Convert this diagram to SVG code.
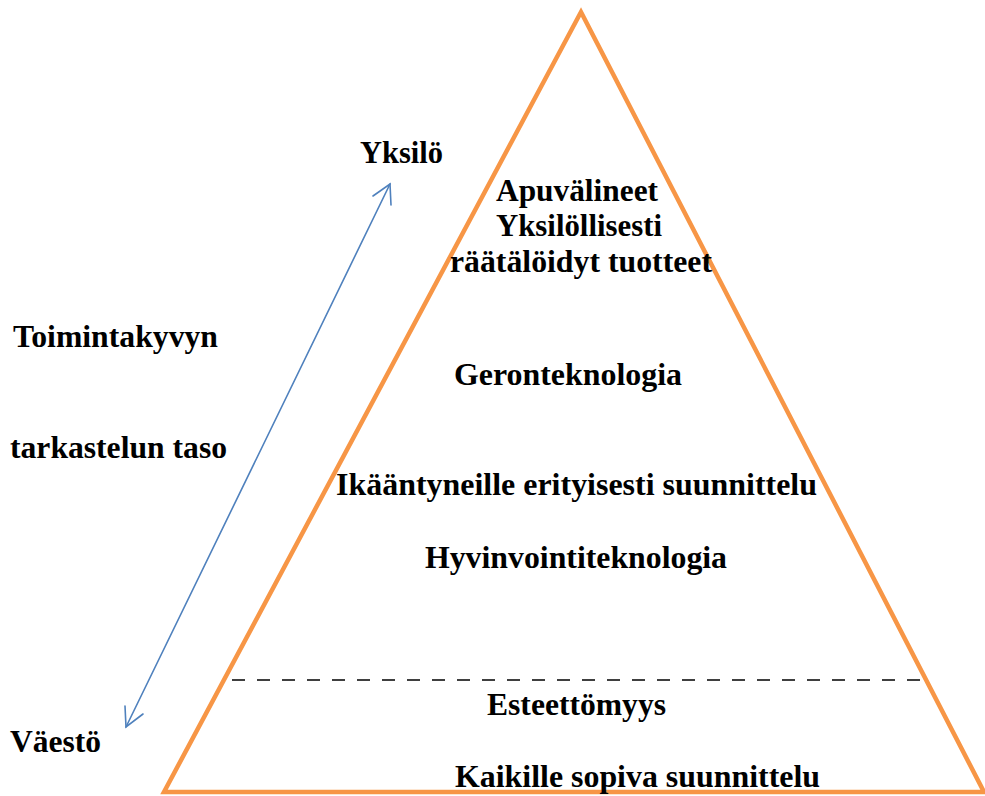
<svg xmlns="http://www.w3.org/2000/svg" width="985" height="796" viewBox="0 0 985 796">
<defs>
<style>
.t{font-family:"Liberation Serif","Times New Roman",serif;font-weight:bold;font-size:31px;fill:#000}
</style>
</defs>
<rect width="985" height="796" fill="#fff"/>
<g id="pyramid">
<polygon points="581,12 164,792 984,792" fill="none" stroke="#F79646" stroke-width="4.5" stroke-linejoin="miter"/>
</g>
<g id="connectors">
<line x1="232" y1="680" x2="920" y2="680" stroke="#000" stroke-width="1.5" stroke-dasharray="13,12"/>
<g stroke="#4F81BD" stroke-width="1.6" fill="none" stroke-linecap="round">
<line x1="390" y1="184" x2="126" y2="727"/>
<polyline points="373,196 390,184 391,205"/>
<polyline points="143,714 126,727 125,706"/>
</g>
</g>
<g id="labels">
<text class="t" x="360" y="163" textLength="83" lengthAdjust="spacingAndGlyphs">Yksilö</text>
<text class="t" x="13" y="347" textLength="205" lengthAdjust="spacingAndGlyphs">Toimintakyvyn</text>
<text class="t" x="10" y="458" textLength="217" lengthAdjust="spacingAndGlyphs">tarkastelun taso</text>
<text class="t" x="10" y="752" textLength="91" lengthAdjust="spacingAndGlyphs">Väestö</text>
</g>
<g id="top">
<text class="t" x="496" y="201" textLength="162" lengthAdjust="spacingAndGlyphs">Apuvälineet</text>
<text class="t" x="496" y="236" textLength="166" lengthAdjust="spacingAndGlyphs">Yksilöllisesti</text>
<text class="t" x="450" y="272" textLength="262" lengthAdjust="spacingAndGlyphs">räätälöidyt tuotteet</text>
</g>
<g id="geronteknologia"><text class="t" x="454" y="385" textLength="228" lengthAdjust="spacingAndGlyphs">Geronteknologia</text></g>
<g id="ikaantyneille"><text class="t" x="336" y="495" textLength="481" lengthAdjust="spacingAndGlyphs">Ikääntyneille erityisesti suunnittelu</text></g>
<g id="hyvinvointi"><text class="t" x="425" y="568" textLength="302" lengthAdjust="spacingAndGlyphs">Hyvinvointiteknologia</text></g>
<g id="esteettomyys"><text class="t" x="487" y="715" textLength="179" lengthAdjust="spacingAndGlyphs">Esteettömyys</text></g>
<g id="kaikille"><text class="t" x="455" y="787" textLength="365" lengthAdjust="spacingAndGlyphs">Kaikille sopiva suunnittelu</text></g>
</svg>
